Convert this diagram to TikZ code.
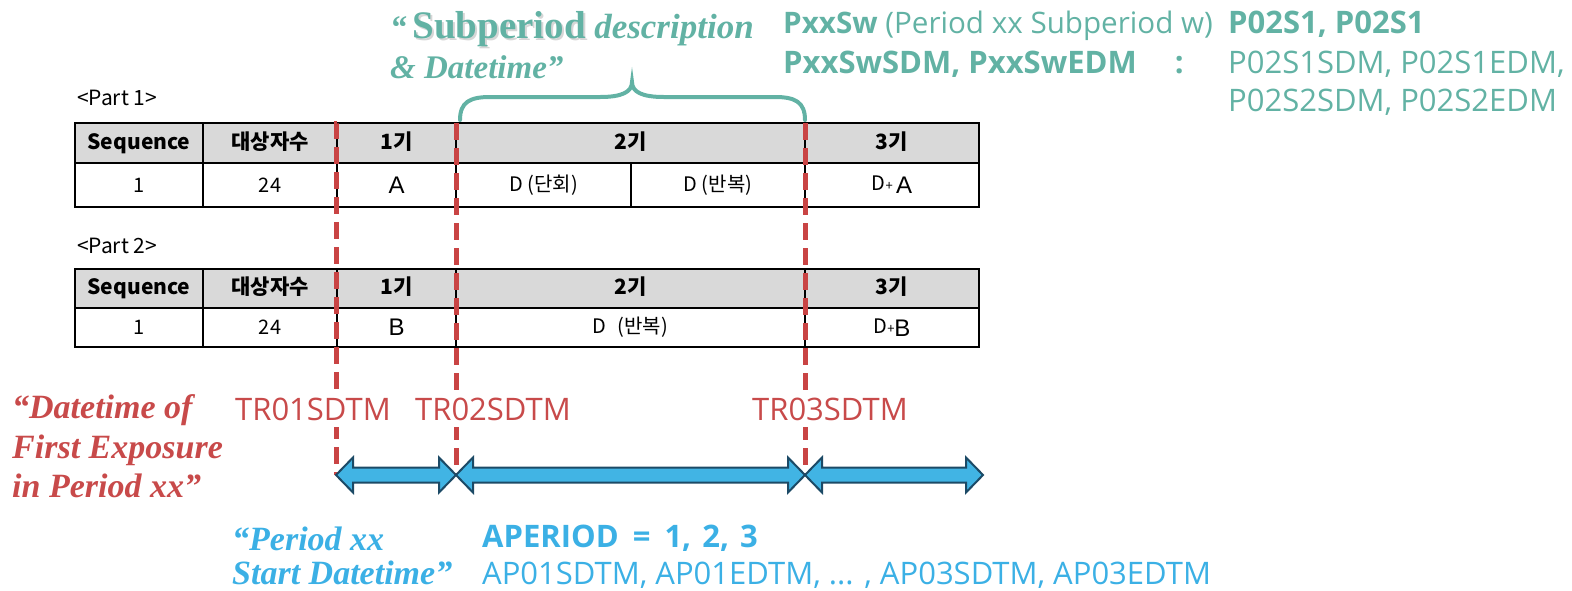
\documentclass[tikz,border=0pt]{standalone}
\usepackage{fontspec}
\setmainfont{Liberation Serif}
\newfontfamily\krfont{Noto Sans CJK KR}
\newfontfamily\uifont{Open Sans}
\newfontfamily\arialf{Liberation Sans}
\usetikzlibrary{calc}

\definecolor{tealc}{HTML}{62B2A4}
\definecolor{redtxt}{HTML}{C84A4A}
\definecolor{reddash}{HTML}{C94444}
\definecolor{bluetxt}{HTML}{3BB0E5}
\definecolor{arrowfill}{HTML}{41B4E4}
\definecolor{arrowline}{HTML}{1C4A66}
\definecolor{headgrey}{HTML}{D9D9D9}

\newcommand\fs[1]{\fontsize{#1}{#1}\selectfont}

% a word set over a soft grey drop shadow
\newcommand\shadowword[1]{%
  \rlap{\hspace{2pt}\raisebox{-2.5pt}{\textcolor{black!16}{#1}}}%
  #1}

\tikzset{
  cellbase/.style={draw=black, line width=1.6pt, inner sep=0pt, anchor=center},
  hcell/.style={cellbase, fill=headgrey, minimum height=40pt, font=\krfont\bfseries\fs{21},
    text height=15pt, text depth=3pt},
  rcell/.style={cellbase, fill=white, minimum height=44pt, font=\krfont\fs{20}},
  hcelltwo/.style={hcell, minimum height=39pt},
  rcelltwo/.style={rcell, minimum height=39pt},
  partlabel/.style={anchor=base west, inner sep=0pt, font=\krfont\fs{21}},
  perioddash/.style={draw=reddash, line width=5pt, dash pattern=on 17pt off 8pt},
  trlabel/.style={anchor=base west, fill=white, inner xsep=2pt, inner ysep=7pt, text=redtxt, font=\uifont\fs{31}},
  tealtxt/.style={anchor=base west, inner sep=0pt, text=tealc, font=\uifont\fs{31}},
  bluesans/.style={anchor=base west, inner sep=0pt, text=bluetxt, font=\uifont\fs{31}},
  quotetxt/.style={anchor=base west, inner sep=0pt, font=\bfseries\itshape\fs{34}},
  arrowbox/.style={fill=arrowfill, draw=arrowline, line width=2pt, line join=miter},
  bracestyle/.style={draw=tealc, line width=4pt, line cap=round}
}

% double-headed block arrow between two named coordinates on one level
\newcommand\periodarrow[2]{%
  \path[arrowbox] (#1) -- ($(#1)+(17,-17.5)$) -- ($(#1)+(17,-7.5)$)
    -- ($(#2)+(-17,-7.5)$) -- ($(#2)+(-17,-17.5)$) -- (#2)
    -- ($(#2)+(-17,17.5)$) -- ($(#2)+(-17,7.5)$)
    -- ($(#1)+(17,7.5)$) -- ($(#1)+(17,17.5)$) -- cycle;}

\begin{document}
\begin{tikzpicture}[x=1pt,y=-1pt]
\useasboundingbox (0,0) rectangle (1572,590);

% ---------- Part 1 table ----------
\node[partlabel] (part1) at (77,105) {<Part 1>};
\node[hcell, minimum width=128pt] (p1seq) at (139,143) {Sequence};
\node[hcell, minimum width=134pt] (p1num) at (270,143) {대상자수};
\node[hcell, minimum width=119pt] (p1pa)  at (396.5,143) {1기};
\node[hcell, minimum width=349pt] (p1pb)  at (630.5,143) {2기};
\node[hcell, minimum width=174pt] (p1pc)  at (892,143) {3기};
\node[rcell, minimum width=128pt] (p1r1) at (139,185) {1};
\node[rcell, minimum width=134pt] (p1r2) at (270,185) {24};
\node[rcell, minimum width=119pt] (p1r3) at (396.5,185) {\raisebox{-2pt}{\arialf\fs{24}A}};
\node[rcell, minimum width=175pt] (p1r4) at (543.5,185) {D (단회)};
\node[rcell, minimum width=174pt] (p1r5) at (718,185) {D (반복)};
\node[rcell, minimum width=174pt] (p1r6) at (892,185) {D{\fs{13}+}\,\raisebox{-3pt}{\arialf\fs{24}A}};

% ---------- Part 2 table ----------
\node[partlabel] (part2) at (77,253) {<Part 2>};
\node[hcelltwo, minimum width=128pt] (p2seq) at (139,288.5) {Sequence};
\node[hcelltwo, minimum width=134pt] (p2num) at (270,288.5) {대상자수};
\node[hcelltwo, minimum width=119pt] (p2pa)  at (396.5,288.5) {1기};
\node[hcelltwo, minimum width=349pt] (p2pb)  at (630.5,288.5) {2기};
\node[hcelltwo, minimum width=174pt] (p2pc)  at (892,288.5) {3기};
\node[rcelltwo, minimum width=128pt] (p2r1) at (139,327.5) {1};
\node[rcelltwo, minimum width=134pt] (p2r2) at (270,327.5) {24};
\node[rcelltwo, minimum width=119pt] (p2r3) at (396.5,327.5) {\raisebox{-2pt}{\arialf\fs{24}B}};
\node[rcelltwo, minimum width=349pt] (p2r4) at (630.5,327.5) {D\,\, (반복)};
\node[rcelltwo, minimum width=174pt] (p2r6) at (892,327.5) {D{\fs{13}+}\raisebox{-3pt}{\arialf\fs{24}B}};

% ---------- period boundaries ----------
\coordinate (d1top) at (337,123);
\coordinate (d2top) at (456,123);
\coordinate (d3top) at (805,123);
\coordinate (a0) at (336,475);
\coordinate (a1) at (456,475);
\coordinate (a2) at (805,475);
\coordinate (a3) at (983,475);
\draw[perioddash] (d1top) -- (a0 |- d1top) -- (a0);
\draw[perioddash] (d2top) -- (a1);
\draw[perioddash] (d3top) -- (a2);

\node[trlabel] (tr1) at (233,420) {TR01SDTM};
\node[trlabel] (tr2) at (413,420) {TR02SDTM};
\node[trlabel] (tr3) at (750,420) {TR03SDTM};

% ---------- period arrows ----------
\periodarrow{a0}{a1}
\periodarrow{a1}{a2}
\periodarrow{a2}{a3}

% ---------- subperiod brace ----------
\coordinate (bl) at (460,120);
\coordinate (bm) at (632,82);
\coordinate (br) at (805,120);
\draw[bracestyle] (bl) .. controls (460,102) and (470,97) .. (490,97)
  -- (600,97) .. controls (622,97) and (632,92) .. (bm)
  .. controls (632,92) and (642,97) .. (664,97)
  -- (775,97) .. controls (795,97) and (805,102) .. (br);

% ---------- subperiod caption ----------
\node[quotetxt, text=tealc] (subq1) at (390,38)
  {{\fs{33}“}\,{\bfseries\upshape\fs{39}\shadowword{Subperiod}} {\fs{35}description}};
\node[quotetxt, text=tealc, font=\bfseries\itshape\fs{33}] (subq2) at (390,78) {\& Datetime”};

% ---------- subperiod variables ----------
\node[tealtxt, font=\uifont\fs{29.6}] (pv1) at (783,33) {\textbf{PxxSw} (Period xx Subperiod w)};
\node[tealtxt] (pv2) at (1228,33) {\textbf{P02S1, P02S1}};
\node[tealtxt] (pv3) at (783,73) {\textbf{PxxSwSDM, PxxSwEDM}\hspace{38pt}\textbf{:}};
\node[tealtxt] (pv4) at (1228,73) {P02S1SDM, P02S1EDM,};
\node[tealtxt] (pv5) at (1228,111) {P02S2SDM, P02S2EDM};

% ---------- first exposure caption ----------
\node[quotetxt, text=redtxt] (rq1) at (12,418) {“Datetime of};
\node[quotetxt, text=redtxt] (rq2) at (12,458) {First Exposure};
\node[quotetxt, text=redtxt] (rq3) at (12,497) {in Period xx”};

% ---------- period start caption ----------
\node[quotetxt, text=bluetxt] (bq1) at (232,550) {“Period xx};
\node[quotetxt, text=bluetxt] (bq2) at (232,584) {Start Datetime”};
\node[bluesans] (ap1) at (482,547) {\textbf{APERIOD\hspace{6pt} = \hspace{6pt}1, \hspace{3pt}2, \hspace{3pt}3}};
\node[bluesans] (ap2) at (482,584) {AP01SDTM, AP01EDTM, ... , AP03SDTM, AP03EDTM};
\end{tikzpicture}
\end{document}
